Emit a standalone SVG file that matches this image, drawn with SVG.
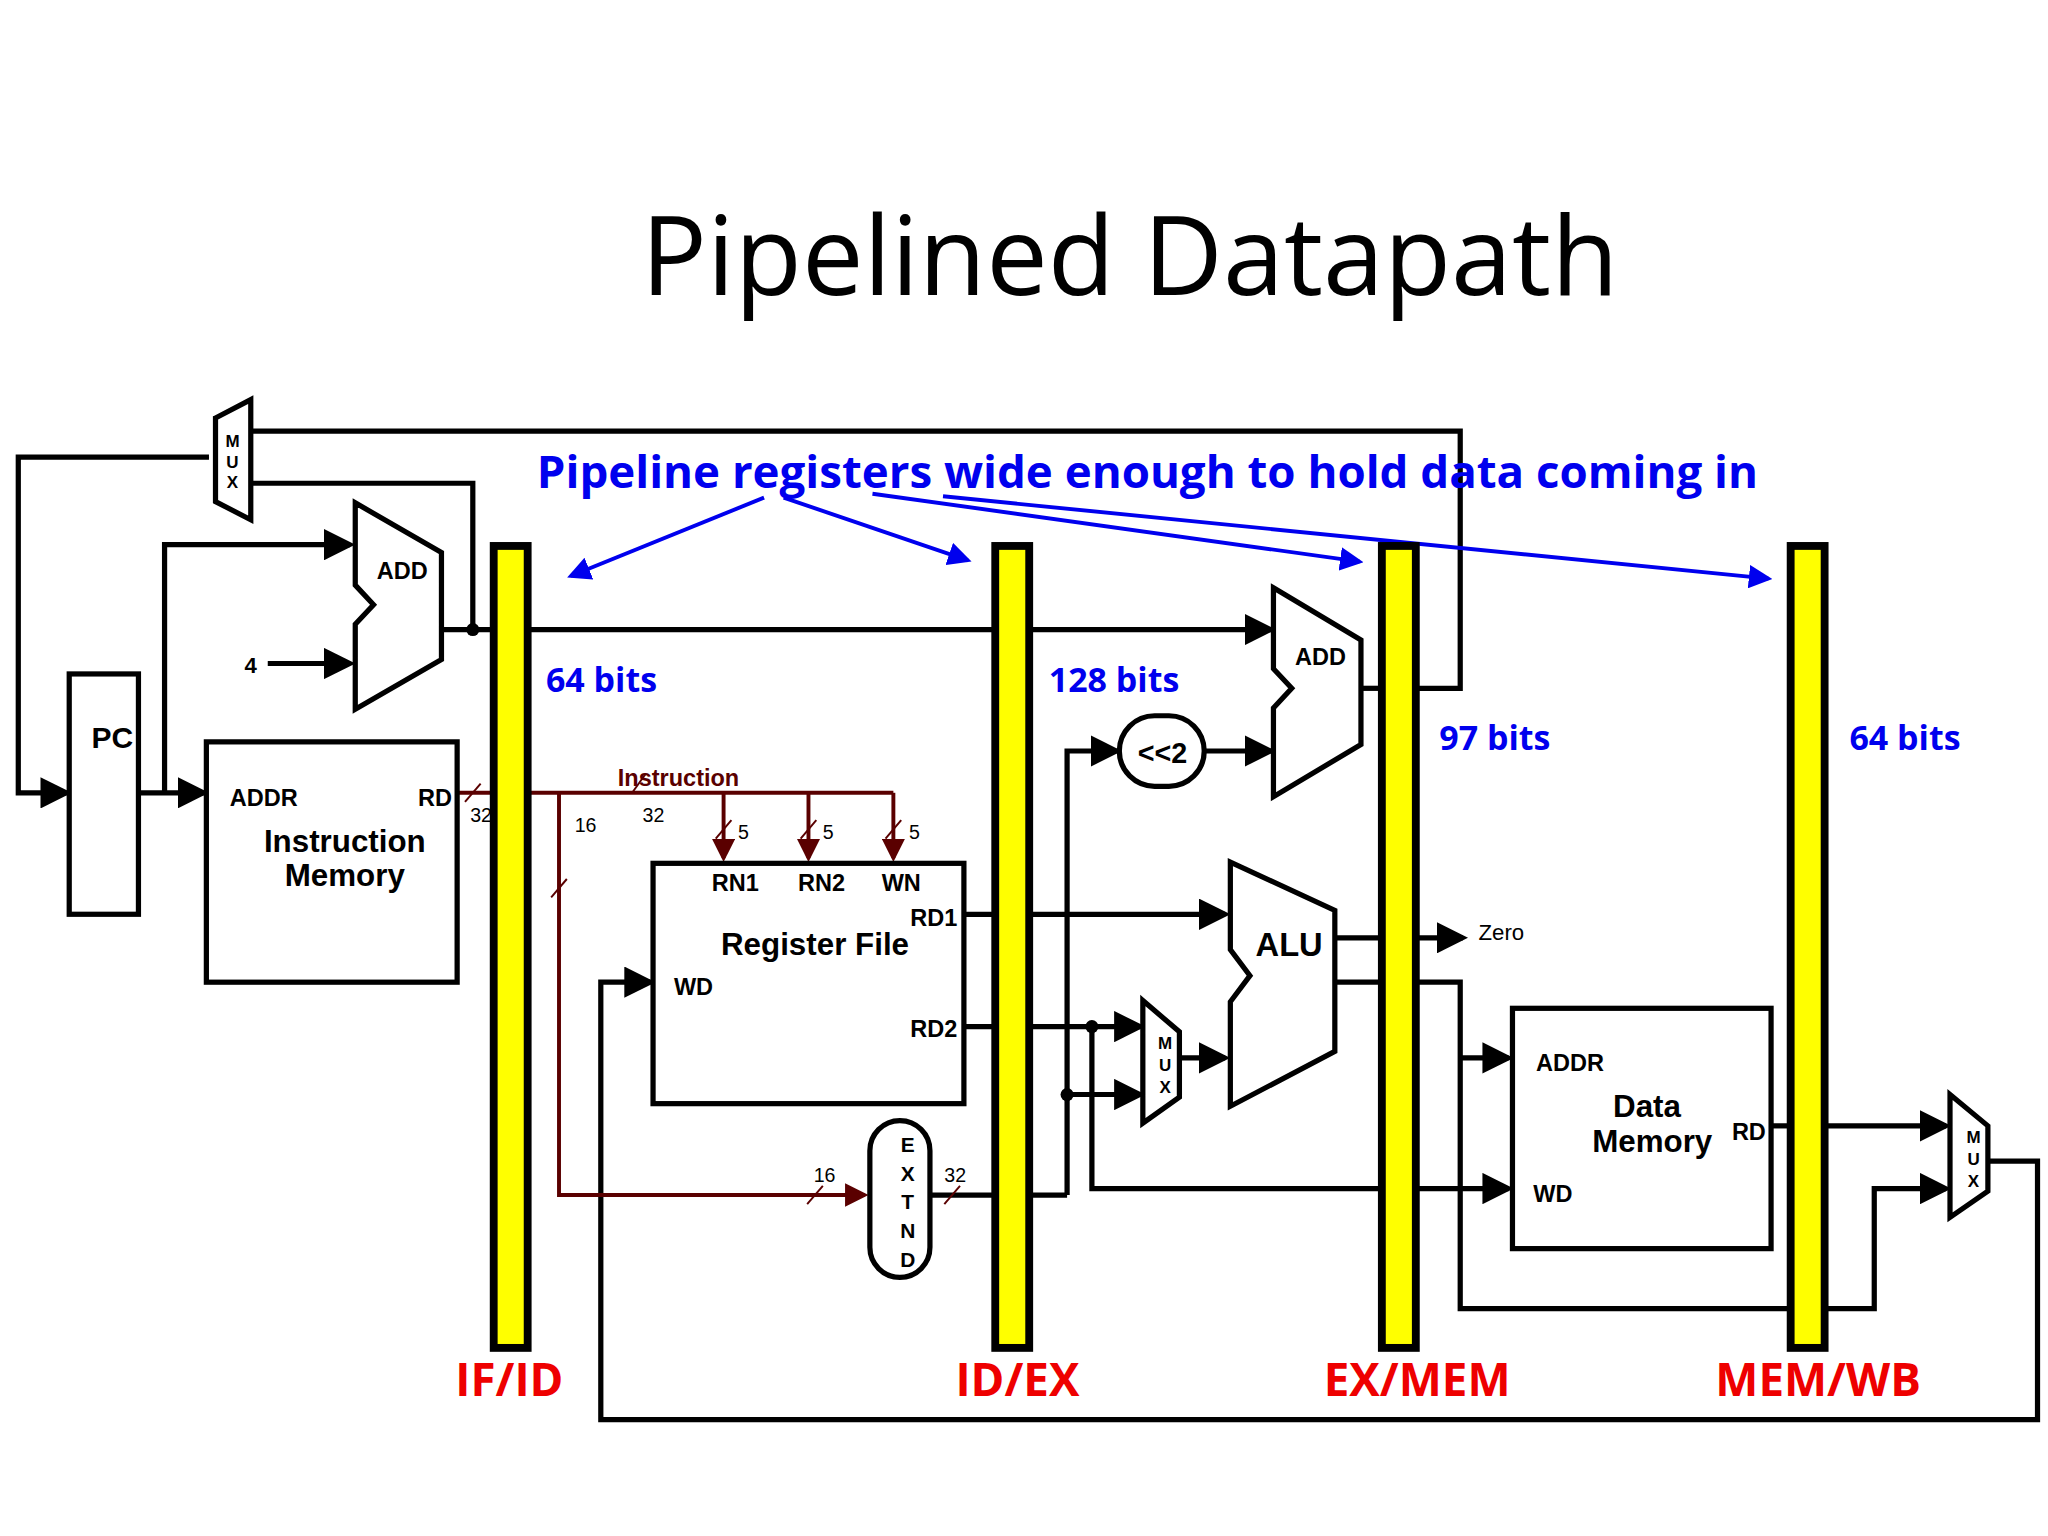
<svg xmlns="http://www.w3.org/2000/svg" width="2048" height="1536" viewBox="0 0 2048 1536">
<style>
.w{fill:none;stroke:#000;stroke-width:4}
.b{fill:#fff;stroke:#000;stroke-width:4}
.bus{fill:none;stroke:#5a0000;stroke-width:3}
.bl{fill:none;stroke:#0000ee;stroke-width:3}
.reg{fill:#ff0;stroke:#000;stroke-width:6}
.t{font-family:"Liberation Sans",Arial,sans-serif;font-weight:bold;fill:#000}
.s{font-family:"Liberation Sans",Arial,sans-serif;fill:#000;font-size:15px}
.blue{font-family:"Open Sans","Noto Sans",sans-serif;font-weight:bold;fill:#0000ee}
.red{font-family:"Open Sans","Noto Sans",sans-serif;font-weight:bold;fill:#ee0000;font-size:35px;text-anchor:middle}
</style>
<defs>
<marker id="a" markerWidth="6" markerHeight="6" refX="5" refY="3" orient="auto" markerUnits="strokeWidth"><path d="M0,0L6,3L0,6z" fill="#000"/></marker>
<marker id="ar" markerWidth="6" markerHeight="6" refX="5" refY="3" orient="auto" markerUnits="strokeWidth"><path d="M0,0L6,3L0,6z" fill="#5a0000"/></marker>
<marker id="ab" markerWidth="6" markerHeight="6" refX="5" refY="3" orient="auto" markerUnits="strokeWidth"><path d="M0,0L6,3L0,6z" fill="#0000ee"/></marker>
</defs>
<rect width="2048" height="1536" fill="#fff"/>
<g transform="scale(1.3061)">
<text x="865" y="226" font-family="Open Sans,Noto Sans,sans-serif" font-size="84" text-anchor="middle">Pipelined Datapath</text>

<g id="connectors">
<polyline class="w" points="160,350 14,350 14,607 51,607" marker-end="url(#a)"/>
<polyline class="w" points="106,607 156,607" marker-end="url(#a)"/>
<polyline class="w" points="126,607 126,417 268,417" marker-end="url(#a)"/>
<polyline class="w" points="205,508 268,508" marker-end="url(#a)"/>
<polyline class="w" points="338,482 378,482"/>
<polyline class="w" points="192,370 362,370 362,482"/>
<circle cx="362" cy="482" r="5"/>
<polyline class="w" points="404,482 973,482" marker-end="url(#a)"/>
<polyline class="w" points="192,330 1118,330 1118,527 1084,527"/>
<polyline class="w" points="1042,527 1058,527"/>
<polyline class="w" points="922,575 973,575" marker-end="url(#a)"/>
<polyline class="w" points="817,915 817,575 855,575" marker-end="url(#a)"/>
<polyline class="w" points="738,700 762,700"/>
<polyline class="w" points="788,700 938,700" marker-end="url(#a)"/>
<polyline class="w" points="738,786 762,786"/>
<polyline class="w" points="788,786 873,786" marker-end="url(#a)"/>
<circle cx="836" cy="786" r="5"/>
<polyline class="w" points="836,786 836,910 1058,910"/>
<polyline class="w" points="1084,910 1155,910" marker-end="url(#a)"/>
<polyline class="w" points="712,915 762,915"/>
<polyline class="w" points="788,915 817,915"/>
<circle cx="817" cy="838" r="5"/>
<polyline class="w" points="817,838 873,838" marker-end="url(#a)"/>
<polyline class="w" points="903,810 938,810" marker-end="url(#a)"/>
<polyline class="w" points="1022,718 1058,718"/>
<polyline class="w" points="1084,718 1120,718" marker-end="url(#a)"/>
<polyline class="w" points="1022,752 1058,752"/>
<polyline class="w" points="1084,752 1118,752 1118,1002 1435,1002 1435,910 1490,910" marker-end="url(#a)"/>
<polyline class="w" points="1118,810 1155,810" marker-end="url(#a)"/>
<polyline class="w" points="1356,862 1371,862"/>
<polyline class="w" points="1397,862 1490,862" marker-end="url(#a)"/>
<polyline class="w" points="1522,889 1560,889 1560,1087 460,1087 460,752 498,752" marker-end="url(#a)"/>
<polyline class="bus" points="350,607 684,607"/>
<polyline class="bus" points="554,607 554,657" marker-end="url(#ar)"/>
<polyline class="bus" points="619,607 619,657" marker-end="url(#ar)"/>
<polyline class="bus" points="684,607 684,657" marker-end="url(#ar)"/>
<polyline class="bus" points="428,607 428,915 662,915" marker-end="url(#ar)"/>
<g stroke="#5a0000" stroke-width="1.5">
<line x1="356" y1="614" x2="368" y2="600"/><line x1="484" y1="607" x2="494" y2="593"/>
<line x1="548" y1="642" x2="560" y2="628"/><line x1="613" y1="642" x2="625" y2="628"/><line x1="678" y1="642" x2="690" y2="628"/>
<line x1="422" y1="687" x2="434" y2="673"/><line x1="618" y1="922" x2="630" y2="908"/><line x1="723" y1="922" x2="735" y2="908"/>
</g>
<polyline class="bl" points="585,381 437,441" marker-end="url(#ab)"/>
<polyline class="bl" points="600,381 741,429" marker-end="url(#ab)"/>
<polyline class="bl" points="668,378 1041,430" marker-end="url(#ab)"/>
<polyline class="bl" points="722,380 1354,443" marker-end="url(#ab)"/>
</g>

<g id="pipeline-registers">
<rect class="reg" x="378" y="418" width="26" height="614"/>
<rect class="reg" x="762" y="418" width="26" height="614"/>
<rect class="reg" x="1058" y="418" width="26" height="614"/>
<rect class="reg" x="1371" y="418" width="26" height="614"/>
<text class="red" x="390" y="1069">IF/ID</text>
<text class="red" x="779" y="1069">ID/EX</text>
<text class="red" x="1085" y="1069">EX/MEM</text>
<text class="red" x="1392" y="1069">MEM/WB</text>
</g>

<g id="pc"><rect class="b" x="53" y="516" width="53" height="184"/><text class="t" x="70" y="573" font-size="23">PC</text></g>
<g id="mux-pc"><polygon class="b" points="165,320 192,306 192,398 165,384"/>
<text class="t" x="178" y="342" font-size="13" text-anchor="middle">M</text><text class="t" x="178" y="358" font-size="13" text-anchor="middle">U</text><text class="t" x="178" y="374" font-size="13" text-anchor="middle">X</text></g>
<g id="add-pc"><polygon class="b" points="272,385 338,423 338,505 272,543 272,478 286,463 272,448"/><text class="t" x="308" y="443" font-size="18" text-anchor="middle">ADD</text></g>
<text class="t" x="192" y="515" font-size="17" text-anchor="middle">4</text>
<g id="imem"><rect class="b" x="158" y="568" width="192" height="184"/>
<text class="t" x="176" y="617" font-size="18">ADDR</text><text class="t" x="320" y="617" font-size="18">RD</text>
<text class="t" x="264" y="652" font-size="24" text-anchor="middle">Instruction</text><text class="t" x="264" y="678" font-size="24" text-anchor="middle">Memory</text></g>
<text class="s" x="360" y="629">32</text>
<text class="t" x="473" y="602" font-size="18" style="fill:#5a0000">Instruction</text>
<text class="s" x="440" y="637">16</text><text class="s" x="492" y="629">32</text>
<text class="s" x="565" y="642">5</text><text class="s" x="630" y="642">5</text><text class="s" x="696" y="642">5</text>
<text class="s" x="623" y="905">16</text><text class="s" x="723" y="905">32</text>
<g id="regfile"><rect class="b" x="500" y="661" width="238" height="184"/>
<text class="t" x="563" y="682" font-size="18" text-anchor="middle">RN1</text><text class="t" x="629" y="682" font-size="18" text-anchor="middle">RN2</text><text class="t" x="690" y="682" font-size="18" text-anchor="middle">WN</text>
<text class="t" x="733" y="709" font-size="18" text-anchor="end">RD1</text><text class="t" x="624" y="731" font-size="24" text-anchor="middle">Register File</text>
<text class="t" x="516" y="762" font-size="18">WD</text><text class="t" x="733" y="794" font-size="18" text-anchor="end">RD2</text></g>
<g id="extnd"><rect class="b" x="666" y="858" width="46" height="120" rx="23"/>
<g class="t" font-size="16" text-anchor="middle"><text x="695" y="882">E</text><text x="695" y="904">X</text><text x="695" y="926">T</text><text x="695" y="948">N</text><text x="695" y="970">D</text></g></g>
<g id="shift"><rect class="b" x="857" y="548" width="65" height="54" rx="27"/><text class="t" x="890" y="584" font-size="22" text-anchor="middle">&lt;&lt;2</text></g>
<g id="add-br"><polygon class="b" points="975,450 1042,490 1042,570 975,610 975,542 989,527 975,512"/><text class="t" x="1011" y="509" font-size="18" text-anchor="middle">ADD</text></g>
<g id="mux-alu"><polygon class="b" points="875,766 903,790 903,840 875,860"/>
<g class="t" font-size="13" text-anchor="middle"><text x="892" y="803">M</text><text x="892" y="820">U</text><text x="892" y="837">X</text></g></g>
<g id="alu"><polygon class="b" points="942,660 1022,697 1022,805 942,847 942,767 957,747 942,727"/><text class="t" x="987" y="732" font-size="25" text-anchor="middle">ALU</text></g>
<text class="s" x="1132" y="720" style="font-size:17px">Zero</text>
<g id="dmem"><rect class="b" x="1158" y="772" width="198" height="184"/>
<text class="t" x="1176" y="820" font-size="18">ADDR</text><text class="t" x="1261" y="855" font-size="24" text-anchor="middle">Data</text><text class="t" x="1265" y="882" font-size="24" text-anchor="middle">Memory</text>
<text class="t" x="1326" y="873" font-size="18">RD</text><text class="t" x="1174" y="920" font-size="18">WD</text></g>
<g id="mux-wb"><polygon class="b" points="1493,838 1522,862 1522,912 1493,932"/>
<g class="t" font-size="13" text-anchor="middle"><text x="1511" y="875">M</text><text x="1511" y="892">U</text><text x="1511" y="909">X</text></g></g>

<text class="blue" x="411" y="374" font-size="34" textLength="935" lengthAdjust="spacingAndGlyphs">Pipeline registers wide enough to hold data coming in</text>
<g class="blue" font-size="26"><text x="418" y="530">64 bits</text><text x="803" y="530">128 bits</text><text x="1102" y="574">97 bits</text><text x="1416" y="574">64 bits</text></g>
</g>
</svg>
